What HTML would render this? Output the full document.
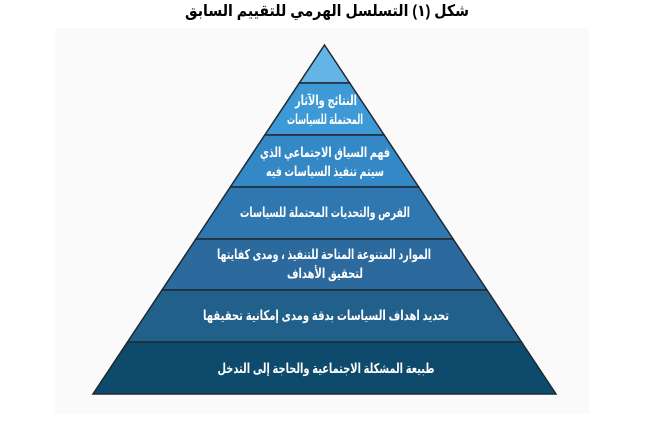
<!DOCTYPE html>
<html><head><meta charset="utf-8"><style>
html,body{margin:0;padding:0;background:#fff;width:646px;height:421px;overflow:hidden}
svg{display:block}
text{font-family:"Liberation Sans","DejaVu Sans",sans-serif;font-weight:bold;text-anchor:middle}
.t{fill:#fff;font-size:13.5px}
</style></head><body>
<svg width="646" height="421" viewBox="0 0 646 421">
<rect x="55" y="28" width="534" height="386" fill="#fafafa"/>
<text x="327" y="16" font-size="16" fill="#000" textLength="284" lengthAdjust="spacingAndGlyphs">شكل (١) التسلسل الهرمي للتقييم السابق</text>
<g stroke="#1e2a33" stroke-width="1.5">
<polygon points="324.5,45 349.7,83 299.3,83" fill="#64b5e5"/>
<polygon points="299.3,83 349.7,83 384.2,135 264.8,135" fill="#3d9ad6"/>
<polygon points="264.8,135 384.2,135 418.7,187 230.3,187" fill="#3588c6"/>
<polygon points="230.3,187 418.7,187 453.1,239 195.9,239" fill="#2f77b0"/>
<polygon points="195.9,239 453.1,239 487,290 162,290" fill="#2c6a9e"/>
<polygon points="162,290 487,290 521.5,342 127.5,342" fill="#21608a"/>
<polygon points="127.5,342 521.5,342 556,394 93,394" fill="#0d4a6c"/>
</g>
<text class="t" x="326" y="105" textLength="62" lengthAdjust="spacingAndGlyphs">النتائج والآثار</text>
<text class="t" x="325" y="124" textLength="76" lengthAdjust="spacingAndGlyphs">المحتملة للسياسات</text>
<text class="t" x="325" y="157" textLength="130" lengthAdjust="spacingAndGlyphs">فهم السياق الاجتماعي الذي</text>
<text class="t" x="325" y="176" textLength="118" lengthAdjust="spacingAndGlyphs">سيتم تنفيذ السياسات فيه</text>
<text class="t" x="325" y="217" textLength="170" lengthAdjust="spacingAndGlyphs">الفرص والتحديات المحتملة للسياسات</text>
<text class="t" x="324" y="259" textLength="214" lengthAdjust="spacingAndGlyphs">الموارد المتنوعة المتاحة للتنفيذ ، ومدى كفايتها</text>
<text class="t" x="325" y="278" textLength="76" lengthAdjust="spacingAndGlyphs">لتحقيق الأهداف</text>
<text class="t" x="326" y="320" textLength="246" lengthAdjust="spacingAndGlyphs">تحديد اهداف السياسات بدقة ومدى إمكانية تحقيقها</text>
<text class="t" x="326" y="373" textLength="217" lengthAdjust="spacingAndGlyphs">طبيعة المشكلة الاجتماعية والحاجة إلى التدخل</text>
</svg>
</body></html>
